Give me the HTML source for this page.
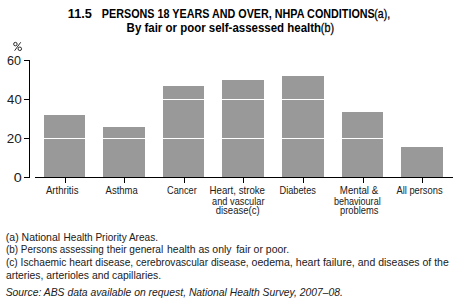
<!DOCTYPE html>
<html><head><meta charset="utf-8"><style>
html,body{margin:0;padding:0;background:#fff;width:458px;height:307px;overflow:hidden}
svg{display:block}
text{font-family:"Liberation Sans",sans-serif}
</style></head><body>
<svg width="458" height="307" viewBox="0 0 458 307">
<g shape-rendering="crispEdges">
<rect x="44" y="115" width="41" height="62" fill="#999999"/>
<rect x="103" y="127" width="42" height="50" fill="#999999"/>
<rect x="163" y="86" width="41" height="91" fill="#999999"/>
<rect x="222" y="80" width="42" height="97" fill="#999999"/>
<rect x="282" y="76" width="42" height="101" fill="#999999"/>
<rect x="342" y="112" width="41" height="65" fill="#999999"/>
<rect x="401" y="147" width="42" height="30" fill="#999999"/>
<rect x="35" y="138" width="418" height="1" fill="#fff"/>
<rect x="35" y="99" width="418" height="1" fill="#fff"/>
<rect x="29" y="60" width="1" height="118" fill="#000"/>
<rect x="24" y="60" width="5" height="1" fill="#000"/>
<rect x="24" y="99" width="5" height="1" fill="#000"/>
<rect x="24" y="138" width="5" height="1" fill="#000"/>
<rect x="24" y="177" width="5" height="1" fill="#000"/>
<rect x="35" y="177" width="418" height="1" fill="#000"/>
<rect x="65" y="178" width="1" height="5" fill="#000"/>
<rect x="124" y="178" width="1" height="5" fill="#000"/>
<rect x="184" y="178" width="1" height="5" fill="#000"/>
<rect x="243" y="178" width="1" height="5" fill="#000"/>
<rect x="303" y="178" width="1" height="5" fill="#000"/>
<rect x="363" y="178" width="1" height="5" fill="#000"/>
<rect x="422" y="178" width="1" height="5" fill="#000"/>
</g>
<text x="67.85" y="17.6" font-size="12.5" font-weight="bold" textLength="24.11" lengthAdjust="spacingAndGlyphs">11.5</text>
<text x="101.83" y="17.6" font-size="12.5" font-weight="bold" textLength="272.91" lengthAdjust="spacingAndGlyphs">PERSONS 18 YEARS AND OVER, NHPA CONDITIONS</text>
<text x="374.27" y="17.6" font-size="12.5" textLength="15.79" lengthAdjust="spacingAndGlyphs" stroke="#000" stroke-width="0.3">(a),</text>
<text x="126.6" y="31.8" font-size="12.5" font-weight="bold" textLength="194.48" lengthAdjust="spacingAndGlyphs">By fair or poor self-assessed health</text>
<text x="320.82" y="31.8" font-size="12.5" textLength="13.18" lengthAdjust="spacingAndGlyphs" stroke="#000" stroke-width="0.3">(b)</text>
<text x="7.08" y="64.5" font-size="12" fill="#202020" textLength="13.98" lengthAdjust="spacingAndGlyphs">60</text>
<text x="7.13" y="103.5" font-size="12" fill="#202020" textLength="14.6" lengthAdjust="spacingAndGlyphs">40</text>
<text x="6.78" y="142.5" font-size="12" fill="#202020" textLength="14.95" lengthAdjust="spacingAndGlyphs">20</text>
<text x="13.75" y="181.5" font-size="12" fill="#202020" textLength="7.99" lengthAdjust="spacingAndGlyphs">0</text>
<text x="45.93" y="193.5" font-size="10.8" fill="#202020" textLength="32.55" lengthAdjust="spacingAndGlyphs">Arthritis</text>
<text x="105.62" y="193.5" font-size="10.8" fill="#202020" textLength="32.12" lengthAdjust="spacingAndGlyphs">Asthma</text>
<text x="167.12" y="193.5" font-size="10.8" fill="#202020" textLength="29.64" lengthAdjust="spacingAndGlyphs">Cancer</text>
<text x="209.59" y="193.5" font-size="10.8" fill="#202020" textLength="55.43" lengthAdjust="spacingAndGlyphs">Heart, stroke</text>
<text x="212.05" y="204.9" font-size="10.8" fill="#202020" textLength="52.43" lengthAdjust="spacingAndGlyphs">and vascular</text>
<text x="215.67" y="214.4" font-size="10.8" fill="#202020" textLength="43.93" lengthAdjust="spacingAndGlyphs">disease(c)</text>
<text x="279.46" y="193.5" font-size="10.8" fill="#202020" textLength="36.51" lengthAdjust="spacingAndGlyphs">Diabetes</text>
<text x="339.81" y="193.5" font-size="10.8" fill="#202020" textLength="38.36" lengthAdjust="spacingAndGlyphs">Mental &amp;</text>
<text x="333.94" y="204.9" font-size="10.8" fill="#202020" textLength="46.73" lengthAdjust="spacingAndGlyphs">behavioural</text>
<text x="340.04" y="214.4" font-size="10.8" fill="#202020" textLength="38.5" lengthAdjust="spacingAndGlyphs">problems</text>
<text x="396.42" y="193.5" font-size="10.8" fill="#202020" textLength="46.2" lengthAdjust="spacingAndGlyphs">All persons</text>
<text x="5.8" y="240.7" font-size="10.6" fill="#202020" textLength="54.31" lengthAdjust="spacingAndGlyphs">(a) National</text>
<text x="63.57" y="240.7" font-size="10.6" fill="#202020" textLength="94.42" lengthAdjust="spacingAndGlyphs">Health Priority Areas.</text>
<text x="5.97" y="253.3" font-size="10.6" fill="#202020" textLength="97.84" lengthAdjust="spacingAndGlyphs">(b) Persons assessing</text>
<text x="106.83" y="253.3" font-size="10.6" fill="#202020" textLength="56.38" lengthAdjust="spacingAndGlyphs">their general</text>
<text x="167.07" y="253.3" font-size="10.6" fill="#202020" textLength="64.47" lengthAdjust="spacingAndGlyphs">health as only</text>
<text x="236.2" y="253.3" font-size="10.6" fill="#202020" textLength="52.91" lengthAdjust="spacingAndGlyphs">fair or poor.</text>
<text x="5.9" y="265.9" font-size="10.6" fill="#202020" textLength="127.28" lengthAdjust="spacingAndGlyphs">(c) Ischaemic heart disease,</text>
<text x="136.06" y="265.9" font-size="10.6" fill="#202020" textLength="112.55" lengthAdjust="spacingAndGlyphs">cerebrovascular disease,</text>
<text x="251.48" y="265.9" font-size="10.6" fill="#202020" textLength="103.32" lengthAdjust="spacingAndGlyphs">oedema, heart failure,</text>
<text x="357.72" y="265.9" font-size="10.6" fill="#202020" textLength="91.01" lengthAdjust="spacingAndGlyphs">and diseases of the</text>
<text x="5.96" y="278.5" font-size="10.6" fill="#202020" textLength="155.14" lengthAdjust="spacingAndGlyphs">arteries, arterioles and capillaries.</text>
<text x="5.63" y="296.4" font-size="10.6" font-style="italic" fill="#202020" textLength="337.35" lengthAdjust="spacingAndGlyphs">Source: ABS data available on request, National Health Survey, 2007–08.</text>
<g fill="none" stroke="#202020" stroke-width="0.95"><circle cx="15.4" cy="44.1" r="1.75"/><circle cx="19.8" cy="48.8" r="1.75"/><path d="M14.6 50.7 L20.7 42.3"/></g>
</svg>
</body></html>
